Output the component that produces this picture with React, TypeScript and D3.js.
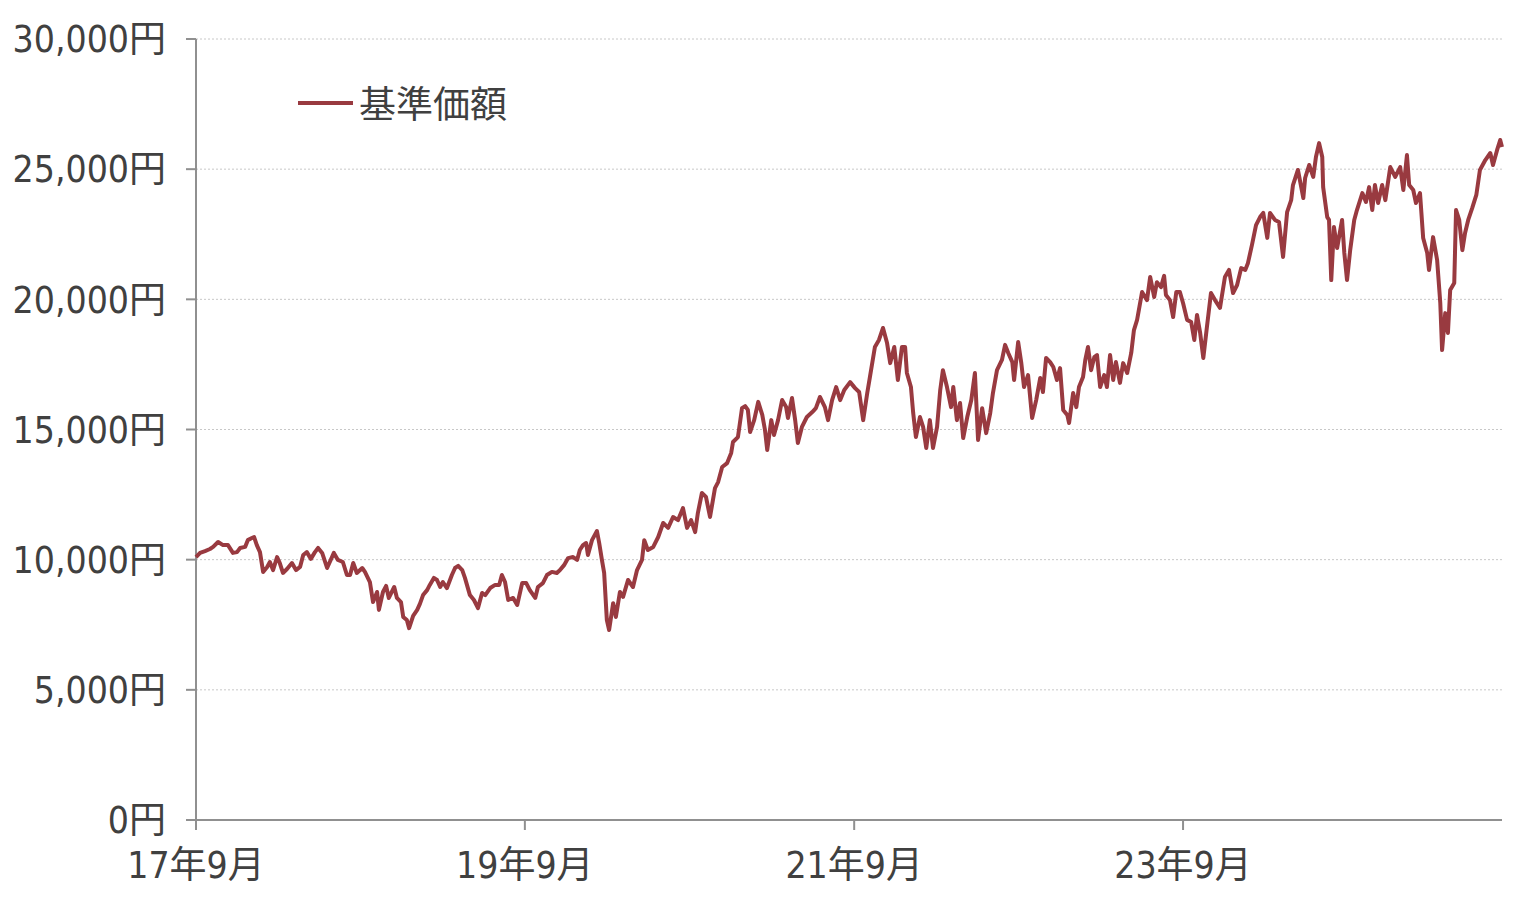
import React from "react";
import * as d3 from "d3";

// 基準価額: days since 2017-09-01, and NAV (円)
const DAY_OFFSETS = [
  0, 9, 20, 31, 38, 49, 60, 71, 82, 91, 98, 109, 115, 124, 129, 135, 142, 149, 158, 164, 171, 180, 186, 193, 202, 213,
  222, 231, 238, 246, 255, 264, 271, 280, 291, 297, 306, 315, 326, 335, 342, 349, 357, 369, 375, 386, 393, 402, 406, 415,
  422, 428, 440, 446, 455, 460, 468, 473, 482, 491, 497, 504, 513, 519, 528, 535, 542, 548, 557, 568, 575, 582, 591, 597,
  608, 617, 626, 635, 642, 653, 664, 673, 679, 686, 693, 704, 713, 724, 733, 741, 753, 759, 770, 779, 790, 801, 808, 817,
  826, 837, 846, 852, 859, 866, 870, 879, 890, 895, 901, 906, 912, 917, 926, 932, 941, 948, 959, 970, 979, 990, 995, 1003,
  1015, 1026, 1037, 1048, 1059, 1070, 1081, 1090, 1099, 1108, 1114, 1123, 1132, 1141, 1152, 1159, 1168, 1179, 1188, 1192,
  1203, 1212, 1219, 1225, 1230, 1239, 1248, 1257, 1263, 1268, 1277, 1283, 1292, 1301, 1310, 1314, 1323, 1330, 1336, 1345,
  1356, 1368, 1376, 1385, 1396, 1403, 1412, 1421, 1430, 1439, 1452, 1463, 1472, 1481, 1490, 1496, 1507, 1516, 1525, 1534,
  1541, 1550, 1558, 1567, 1574, 1578, 1587, 1592, 1598, 1607, 1614, 1621, 1629, 1636, 1645, 1652, 1658, 1667, 1676, 1681,
  1689, 1696, 1703, 1712, 1721, 1729, 1736, 1745, 1754, 1763, 1769, 1778, 1789, 1796, 1803, 1812, 1816, 1825, 1832, 1838,
  1847, 1856, 1865, 1874, 1880, 1887, 1896, 1903, 1911, 1918, 1925, 1934, 1938, 1947, 1954, 1960, 1969, 1974, 1980, 1987,
  1994, 2000, 2007, 2016, 2022, 2029, 2036, 2042, 2051, 2058, 2067, 2076, 2082, 2089, 2100, 2111, 2118, 2127, 2133, 2142,
  2149, 2153, 2162, 2169, 2176, 2184, 2191, 2200, 2209, 2216, 2222, 2229, 2236, 2244, 2253, 2262, 2273, 2284, 2293, 2302,
  2311, 2320, 2329, 2335, 2344, 2353, 2362, 2369, 2378, 2384, 2395, 2404, 2413, 2422, 2431, 2435, 2446, 2458, 2462, 2471,
  2480, 2486, 2493, 2500, 2502, 2511, 2515, 2520, 2526, 2533, 2544, 2549, 2555, 2562, 2571, 2577, 2589, 2597, 2604, 2611,
  2617, 2624, 2633, 2640, 2651, 2662, 2673, 2680, 2688, 2693, 2702, 2708, 2717, 2724, 2733, 2737, 2746, 2755, 2762, 2766,
  2773, 2779, 2784, 2793, 2797, 2804, 2811, 2817, 2824, 2833, 2842, 2850, 2862, 2873, 2879, 2888, 2895, 2899,
];

const NAV_VALUES = [
  10100, 10260, 10330, 10410, 10490, 10680, 10560, 10560, 10260, 10290, 10450, 10490, 10750, 10830, 10870, 10560, 10290,
  9530, 9720, 9910, 9600, 10100, 9870, 9490, 9640, 9870, 9600, 9720, 10180, 10290, 10030, 10290, 10450, 10260, 9680, 9910,
  10260, 9990, 9910, 9410, 9410, 9870, 9490, 9680, 9530, 9140, 8370, 8760, 8070, 8760, 8990, 8530, 8950, 8530, 8370, 7800,
  7680, 7370, 7840, 8070, 8300, 8640, 8830, 9030, 9300, 9220, 8950, 9140, 8910, 9410, 9680, 9760, 9600, 9300, 8640, 8450,
  8140, 8720, 8640, 8910, 9030, 9030, 9410, 9140, 8450, 8530, 8260, 9100, 9100, 8830, 8530, 8950, 9100, 9410, 9530, 9490,
  9600, 9790, 10060, 10100, 9990, 10370, 10560, 10640, 10180, 10750, 11100, 10640, 9990, 9490, 7680, 7300, 8330, 7800,
  8760, 8570, 9220, 8950, 9600, 9990, 10750, 10370, 10490, 10870, 11410, 11220, 11640, 11520, 11980, 11220, 11520, 11060,
  11790, 12560, 12410, 11640, 12750, 12980, 13560, 13710, 14100, 14520, 14710, 15820, 15900, 15750, 14900, 15360, 16060,
  15560, 14980, 14210, 15360, 14790, 15360, 16130, 15860, 15440, 16210, 15360, 14480, 15100, 15480, 15670, 15820, 16250,
  15860, 15360, 16130, 16630, 16130, 16520, 16820, 16590, 16440, 15360, 16400, 17020, 18170, 18440, 18900, 18320, 17550,
  18170, 16900, 18170, 18170, 17170, 16630, 15630, 14710, 15480, 15100, 14290, 15360, 14290, 15100, 16520, 17280, 16630,
  15860, 16630, 15360, 16020, 14670, 15480, 16130, 17170, 14600, 15820, 14860, 15630, 16400, 17280, 17670, 18250, 17940,
  17590, 16900, 18360, 17550, 16630, 17090, 15440, 16130, 16980, 16440, 17750, 17590, 17400, 16900, 17360, 15750, 15560,
  15250, 16400, 15860, 16630, 17020, 17670, 18170, 17280, 17780, 17860, 16630, 17090, 16630, 17860, 16900, 17590, 16790,
  17550, 17170, 17940, 18820, 19210, 20280, 19970, 20860, 20090, 20660, 20470, 20900, 20170, 19970, 19320, 20280, 20280,
  19860, 19210, 19130, 18440, 19400, 18710, 17750, 18940, 20240, 19970, 19670, 20860, 21130, 20240, 20550, 21200, 21130,
  21390, 22090, 22850, 23160, 23320, 22360, 23320, 23050, 22970, 21630, 23350, 23810, 24390, 24970, 23890, 24660, 25160,
  24700, 25470, 26000, 25470, 24310, 23160, 23050, 20740, 22780, 21970, 23050, 21780, 20740, 21890, 23050, 23430, 24080,
  23740, 24310, 23430, 24390, 23700, 24390, 23810, 25080, 24700, 25080, 24200, 25540, 24390, 24200, 23700, 24080, 22360,
  21780, 21130, 22390, 21510, 19860, 18050, 19470, 18710, 20360, 20630, 23430, 23050, 21890, 22550, 23050, 23510, 24010,
  24970, 25350, 25620, 25160, 25730, 26120, 25850,
];

const START_DATE = new Date(2017, 8, 1);
const Y_TICKS = [0, 5000, 10000, 15000, 20000, 25000, 30000];
const X_TICK_DATES = [new Date(2017, 8, 1), new Date(2019, 8, 1), new Date(2021, 8, 1), new Date(2023, 8, 1)];
const X_TICK_LABELS = ["17年9月", "19年9月", "21年9月", "23年9月"];
const SERIES_NAME = "基準価額";

const FONT = "'DejaVu Sans Condensed', 'DejaVu Sans', 'Noto Sans CJK JP', sans-serif";
const LINE_COLOR = "#993a40";
const TEXT_COLOR = "#404040";
const AXIS_COLOR = "#909090";

export default function App() {
  const data = DAY_OFFSETS.map((d, i) => ({ date: d3.timeDay.offset(START_DATE, d), value: NAV_VALUES[i] }));
  const left = 196;
  const right = 1502;
  const top = 39;
  const bottom = 820;

  const x = d3
    .scaleTime()
    .domain([START_DATE, data[data.length - 1].date])
    .range([left, right]);
  const y = d3.scaleLinear().domain([0, 30000]).range([bottom, top]);

  const line = d3
    .line<{ date: Date; value: number }>()
    .x((d) => x(d.date))
    .y((d) => y(d.value))
    .curve(d3.curveLinear);

  const fmt = d3.format(",");

  return (
    <svg
      width={1530}
      height={901}
      style={{ position: "absolute", left: 0, top: 0, display: "block", background: "#fff" }}
      fontFamily={FONT}
    >
      {/* grid */}
      {Y_TICKS.filter((t) => t > 0).map((t) => (
        <line
          key={"g" + t}
          x1={left}
          x2={right}
          y1={y(t)}
          y2={y(t)}
          stroke="#c8c8c8"
          strokeWidth={1}
          strokeDasharray="2,2"
        />
      ))}
      {/* y axis */}
      <line x1={left} x2={left} y1={top} y2={bottom} stroke={AXIS_COLOR} strokeWidth={2} />
      {Y_TICKS.map((t) => (
        <g key={"y" + t}>
          <line x1={left - 10} x2={left} y1={y(t)} y2={y(t)} stroke={AXIS_COLOR} strokeWidth={2} />
          <text
            x={166}
            y={y(t)}
            dy="0.36em"
            textAnchor="end"
            fontSize={37}
            fill={TEXT_COLOR}
            style={{ fontStretch: "condensed" }}
          >
            {fmt(t) + "円"}
          </text>
        </g>
      ))}
      {/* x axis */}
      <line x1={left} x2={right} y1={bottom} y2={bottom} stroke={AXIS_COLOR} strokeWidth={2} />
      {X_TICK_DATES.map((d, i) => (
        <g key={"x" + i}>
          <line x1={x(d)} x2={x(d)} y1={bottom} y2={bottom + 10} stroke={AXIS_COLOR} strokeWidth={2} />
          <text
            x={x(d)}
            y={878}
            textAnchor="middle"
            fontSize={37}
            fill={TEXT_COLOR}
            style={{ fontStretch: "condensed" }}
          >
            {X_TICK_LABELS[i]}
          </text>
        </g>
      ))}
      {/* series */}
      <path d={line(data) || ""} fill="none" stroke={LINE_COLOR} strokeWidth={4} strokeLinejoin="round" />
      {/* legend */}
      <line x1={298} x2={353} y1={103} y2={103} stroke={LINE_COLOR} strokeWidth={4} />
      <text x={359} y={118} fontSize={37} fill={TEXT_COLOR}>
        {SERIES_NAME}
      </text>
    </svg>
  );
}
